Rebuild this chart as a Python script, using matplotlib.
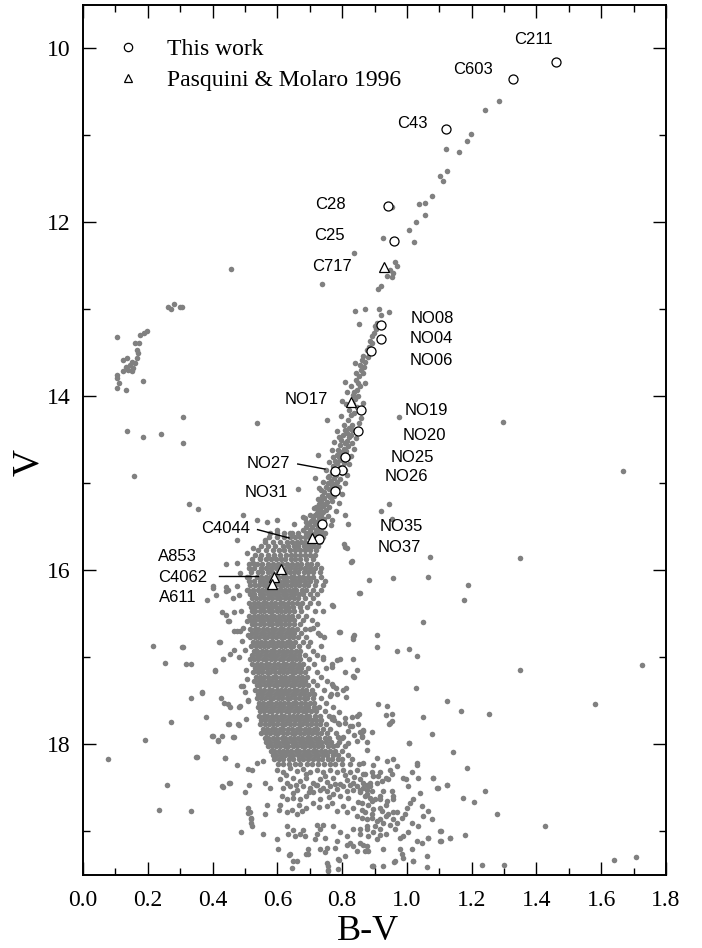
import numpy as np
import matplotlib
matplotlib.use("Agg")
import matplotlib.pyplot as plt

# ---- photometry (B-V, V) ----
# horizontal branch
hb_stars = [(0.281, 12.94), (0.263, 12.97), (0.299, 12.97), (0.305, 12.97), (0.271, 13.00),
            (0.197, 13.25), (0.188, 13.27), (0.176, 13.29), (0.106, 13.32), (0.161, 13.39),
            (0.174, 13.38), (0.166, 13.46), (0.171, 13.50), (0.135, 13.56), (0.166, 13.56),
            (0.124, 13.58), (0.150, 13.60), (0.161, 13.62), (0.145, 13.64), (0.133, 13.66),
            (0.155, 13.67), (0.140, 13.69), (0.124, 13.71), (0.150, 13.71), (0.104, 13.75),
            (0.106, 13.79), (0.184, 13.82), (0.104, 13.90), (0.133, 13.92), (0.112, 13.85)]

# red giant branch
rgb_stars = [(1.284, 10.60), (1.242, 10.71), (1.199, 10.98), (1.187, 11.06), (1.122, 11.16),
             (1.162, 11.19), (1.124, 11.41), (1.102, 11.46), (1.110, 11.52), (1.076, 11.69),
             (1.055, 11.78), (1.037, 11.79), (0.955, 11.82), (1.055, 11.91), (1.027, 12.00),
             (1.008, 12.09), (0.927, 12.18), (1.022, 12.22), (0.836, 12.35), (0.962, 12.45),
             (0.970, 12.50), (0.457, 12.53), (0.948, 12.55), (0.958, 12.58), (0.940, 12.62),
             (0.954, 12.63), (0.738, 12.71), (0.921, 12.73), (0.912, 12.76), (0.870, 12.99),
             (0.915, 13.00), (0.839, 13.02), (0.946, 13.03), (0.919, 13.06), (0.909, 13.16),
             (0.852, 13.17), (0.902, 13.19), (0.905, 13.22), (0.898, 13.27), (0.893, 13.30),
             (0.885, 13.36), (0.891, 13.39), (0.884, 13.43), (0.878, 13.47), (0.866, 13.53),
             (0.860, 13.58), (0.872, 13.60), (0.855, 13.64), (0.868, 13.66), (0.858, 13.70),
             (0.843, 13.73), (0.866, 13.73), (0.852, 13.77), (0.844, 13.81), (0.809, 13.83),
             (0.850, 13.85), (0.855, 13.88), (0.847, 13.92), (0.816, 13.95), (0.838, 13.95),
             (0.834, 13.98), (0.850, 14.00), (0.840, 14.03), (0.835, 14.09), (0.845, 14.12),
             (0.821, 14.15), (0.838, 14.19), (0.827, 14.21), (0.818, 14.27), (0.830, 14.33),
             (0.805, 14.33), (0.820, 14.36), (0.809, 14.38), (0.832, 14.38), (0.814, 14.42),
             (0.804, 14.44), (0.828, 14.44), (0.822, 14.46), (0.798, 14.50), (0.815, 14.51),
             (0.810, 14.53), (0.830, 14.54), (0.795, 14.56), (0.818, 14.57), (0.805, 14.60),
             (0.787, 14.61), (0.812, 14.63), (0.792, 14.64), (0.800, 14.66), (0.783, 14.67),
             (0.790, 14.70), (0.818, 14.71), (0.795, 14.73), (0.778, 14.74), (0.785, 14.76),
             (0.805, 14.77), (0.772, 14.80), (0.795, 14.81), (0.790, 14.83), (0.810, 14.84),
             (0.770, 14.87), (0.800, 14.88), (0.782, 14.90), (0.760, 14.91), (0.775, 14.94),
             (0.795, 14.95), (0.765, 14.97), (0.785, 14.98), (0.757, 15.00), (0.778, 15.01),
             (0.770, 15.03), (0.750, 15.04), (0.790, 15.04), (0.760, 15.06), (0.780, 15.07),
             (0.745, 15.10), (0.768, 15.11), (0.755, 15.13), (0.775, 15.14), (0.738, 15.14),
             (0.762, 15.16), (0.745, 15.17), (0.735, 15.20), (0.752, 15.21), (0.770, 15.20),
             (0.748, 15.23), (0.728, 15.24), (0.740, 15.26), (0.760, 15.27), (0.720, 15.27),
             (0.732, 15.29), (0.750, 15.30), (0.725, 15.32), (0.742, 15.33), (0.715, 15.36),
             (0.735, 15.36), (0.755, 15.37), (0.685, 15.40), (0.728, 15.40), (0.745, 15.41),
             (0.710, 15.41), (0.705, 15.43), (0.720, 15.44), (0.740, 15.44), (0.650, 15.46),
             (0.698, 15.46), (0.715, 15.47), (0.732, 15.47), (0.690, 15.50), (0.708, 15.50),
             (0.725, 15.51), (0.742, 15.50), (0.680, 15.53), (0.700, 15.53), (0.718, 15.54),
             (0.735, 15.53), (0.800, 14.05), (0.865, 14.07), (0.797, 14.22), (0.858, 14.25),
             (0.785, 14.40), (0.843, 14.48), (0.775, 14.52), (0.838, 14.60), (0.768, 14.62),
             (0.828, 14.68), (0.760, 14.75), (0.822, 14.78), (0.750, 14.85), (0.815, 14.90),
             (0.742, 14.98), (0.808, 15.00), (0.735, 15.08), (0.800, 15.12), (0.725, 15.18),
             (0.790, 15.22), (0.712, 15.28), (0.780, 15.32), (0.700, 15.36), (0.770, 15.42),
             (0.690, 15.44), (0.765, 15.48), (0.812, 14.09), (0.852, 14.30), (0.790, 14.47),
             (0.772, 14.70), (0.757, 14.92), (0.728, 15.05), (0.880, 13.55), (0.840, 13.62),
             (0.872, 13.85), (0.828, 13.88)]

# subgiant branch / turn-off, one row per V
sgb_rows = """
15.57 0.600 0.622 0.646 0.664 0.687 0.702 0.716 0.733 0.748
15.62 0.575 0.598 0.621 0.640 0.656 0.671 0.686 0.699 0.713 0.726 0.741
15.67 0.561 0.586 0.609 0.631 0.644 0.661 0.673 0.686 0.701 0.714 0.731
15.72 0.551 0.572 0.594 0.616 0.634 0.651 0.664 0.681 0.694 0.711 0.726
15.77 0.541 0.564 0.586 0.604 0.621 0.639 0.656 0.669 0.686 0.701 0.719
15.82 0.531 0.551 0.571 0.589 0.609 0.626 0.641 0.654 0.671 0.684 0.701 0.716
15.87 0.521 0.546 0.564 0.581 0.596 0.611 0.624 0.641 0.654 0.671 0.689 0.709
15.92 0.514 0.536 0.554 0.571 0.586 0.601 0.614 0.631 0.644 0.661 0.674 0.691 0.704 0.721
15.97 0.511 0.529 0.551 0.566 0.579 0.596 0.609 0.626 0.639 0.656 0.669 0.686 0.701 0.716 0.736
16.02 0.519 0.541 0.554 0.571 0.584 0.601 0.611 0.626 0.639 0.653 0.664 0.681 0.694 0.711 0.731
16.07 0.514 0.536 0.549 0.566 0.577 0.591 0.601 0.616 0.627 0.641 0.651 0.666 0.679 0.696 0.711 0.736
16.12 0.511 0.529 0.546 0.557 0.571 0.581 0.596 0.606 0.621 0.631 0.646 0.657 0.671 0.684 0.701 0.719 0.746
16.17 0.516 0.531 0.544 0.558 0.569 0.583 0.593 0.607 0.617 0.631 0.641 0.656 0.667 0.681 0.694 0.716 0.741
16.22 0.509 0.526 0.539 0.554 0.564 0.578 0.588 0.601 0.611 0.625 0.635 0.649 0.659 0.676 0.689 0.711 0.734
16.27 0.516 0.529 0.546 0.556 0.570 0.579 0.593 0.603 0.617 0.627 0.641 0.651 0.666 0.679 0.701 0.724
"""

# upper main sequence, one row per V
ms_rows = """
16.32 0.521 0.533 0.547 0.558 0.572 0.583 0.598 0.609 0.624 0.635 0.651 0.664 0.686 0.709
16.37 0.514 0.529 0.540 0.555 0.566 0.581 0.592 0.607 0.618 0.633 0.644 0.661 0.677 0.701 0.726
16.42 0.519 0.530 0.545 0.556 0.571 0.582 0.597 0.608 0.623 0.634 0.649 0.669 0.691
16.47 0.521 0.532 0.547 0.558 0.573 0.584 0.599 0.610 0.625 0.636 0.653 0.674 0.716
16.52 0.513 0.528 0.539 0.554 0.565 0.580 0.591 0.606 0.617 0.632 0.644 0.663 0.689
16.57 0.519 0.530 0.545 0.556 0.571 0.582 0.597 0.608 0.623 0.635 0.653 0.679 0.706
16.62 0.521 0.532 0.547 0.558 0.573 0.584 0.599 0.610 0.625 0.636 0.651 0.669 0.721
16.67 0.515 0.530 0.541 0.556 0.567 0.582 0.593 0.608 0.619 0.634 0.645 0.661 0.684 0.701
16.72 0.523 0.534 0.549 0.560 0.575 0.586 0.601 0.612 0.627 0.638 0.653 0.674 0.726
16.77 0.517 0.532 0.543 0.558 0.569 0.584 0.595 0.610 0.621 0.636 0.647 0.663 0.689 0.744
16.82 0.525 0.536 0.551 0.562 0.577 0.588 0.603 0.614 0.629 0.640 0.656 0.679 0.701
16.87 0.519 0.534 0.545 0.560 0.571 0.586 0.597 0.612 0.623 0.638 0.649 0.666 0.694 0.736
16.92 0.527 0.538 0.553 0.564 0.579 0.590 0.605 0.616 0.631 0.642 0.657 0.669 0.711
16.97 0.521 0.536 0.547 0.562 0.573 0.588 0.599 0.614 0.625 0.640 0.651 0.667 0.684 0.721
17.02 0.529 0.540 0.555 0.566 0.581 0.592 0.607 0.618 0.633 0.644 0.659 0.671 0.699 0.741
17.07 0.523 0.538 0.549 0.564 0.575 0.590 0.601 0.616 0.627 0.642 0.653 0.668 0.679 0.714
17.12 0.531 0.542 0.557 0.568 0.583 0.594 0.609 0.620 0.635 0.646 0.661 0.674 0.696 0.749
17.17 0.526 0.541 0.552 0.567 0.578 0.593 0.604 0.619 0.630 0.645 0.656 0.671 0.684 0.721
17.22 0.534 0.545 0.560 0.571 0.586 0.597 0.612 0.623 0.638 0.649 0.664 0.676 0.691 0.734
17.27 0.529 0.544 0.555 0.570 0.581 0.596 0.607 0.622 0.633 0.648 0.659 0.674 0.686 0.711 0.754
17.32 0.537 0.548 0.563 0.574 0.589 0.600 0.615 0.626 0.641 0.652 0.667 0.679 0.696 0.724
17.37 0.532 0.547 0.558 0.573 0.584 0.599 0.610 0.625 0.636 0.651 0.662 0.677 0.689 0.706 0.744
17.42 0.541 0.552 0.567 0.578 0.593 0.604 0.619 0.630 0.645 0.656 0.671 0.682 0.698 0.714 0.766
17.47 0.536 0.551 0.562 0.577 0.588 0.603 0.614 0.629 0.640 0.655 0.666 0.681 0.693 0.709 0.734
17.52 0.544 0.555 0.570 0.581 0.596 0.607 0.622 0.633 0.648 0.659 0.674 0.685 0.701 0.714 0.751
17.57 0.539 0.554 0.565 0.580 0.591 0.606 0.617 0.632 0.643 0.658 0.669 0.684 0.696 0.713 0.729 0.771
17.62 0.548 0.559 0.574 0.585 0.600 0.611 0.626 0.637 0.652 0.663 0.678 0.689 0.705 0.719 0.746
17.67 0.543 0.558 0.569 0.584 0.595 0.610 0.621 0.636 0.647 0.662 0.673 0.688 0.699 0.716 0.731 0.759
17.72 0.551 0.562 0.577 0.588 0.603 0.614 0.629 0.640 0.655 0.666 0.681 0.692 0.707 0.719 0.736 0.774
17.77 0.547 0.562 0.573 0.588 0.599 0.614 0.625 0.640 0.651 0.666 0.677 0.692 0.703 0.719 0.732 0.751 0.789
17.82 0.556 0.567 0.582 0.593 0.608 0.619 0.634 0.645 0.660 0.671 0.686 0.697 0.712 0.724 0.741 0.764
17.87 0.551 0.566 0.577 0.592 0.603 0.618 0.629 0.644 0.655 0.670 0.681 0.696 0.707 0.723 0.736 0.753 0.781
17.92 0.561 0.572 0.587 0.598 0.613 0.624 0.639 0.650 0.665 0.676 0.691 0.702 0.717 0.729 0.746 0.759 0.801
17.97 0.566 0.577 0.592 0.603 0.618 0.629 0.644 0.655 0.670 0.681 0.696 0.707 0.722 0.734 0.751 0.767 0.789
18.02 0.571 0.582 0.597 0.608 0.623 0.634 0.649 0.660 0.675 0.686 0.701 0.712 0.727 0.739 0.756 0.771 0.809
18.07 0.579 0.590 0.605 0.616 0.631 0.642 0.657 0.668 0.683 0.694 0.709 0.720 0.735 0.747 0.764 0.779 0.801
18.12 0.586 0.597 0.612 0.623 0.638 0.649 0.664 0.675 0.690 0.701 0.716 0.727 0.742 0.754 0.771 0.786 0.819
18.17 0.591 0.606 0.619 0.636 0.649 0.666 0.679 0.696 0.709 0.726 0.739 0.756 0.769 0.786 0.801 0.829
18.22 0.601 0.619 0.635 0.655 0.671 0.691 0.707 0.727 0.743 0.763 0.779 0.801 0.824 0.851
"""

# lower main sequence
lower_ms = [(0.598, 18.29), (0.618, 18.32), (0.639, 18.27), (0.660, 18.30), (0.680, 18.28),
            (0.701, 18.32), (0.721, 18.29), (0.742, 18.32), (0.763, 18.29), (0.783, 18.32),
            (0.804, 18.29), (0.824, 18.32), (0.845, 18.29), (0.865, 18.34), (0.608, 18.40),
            (0.629, 18.44), (0.649, 18.38), (0.670, 18.42), (0.690, 18.39), (0.711, 18.44),
            (0.732, 18.40), (0.752, 18.43), (0.773, 18.39), (0.793, 18.45), (0.814, 18.41),
            (0.835, 18.44), (0.855, 18.40), (0.876, 18.46), (0.896, 18.36), (0.917, 18.32),
            (0.937, 18.38), (0.618, 18.50), (0.639, 18.48), (0.660, 18.52), (0.680, 18.48),
            (0.701, 18.50), (0.721, 18.47), (0.742, 18.50), (0.763, 18.48), (0.783, 18.51),
            (0.804, 18.48), (0.824, 18.46), (0.845, 18.48), (0.865, 18.50), (0.886, 18.48),
            (0.711, 18.67), (0.732, 18.63), (0.752, 18.71), (0.768, 18.67), (0.783, 18.76),
            (0.804, 18.71), (0.814, 18.78), (0.835, 18.73), (0.845, 18.82), (0.860, 18.75),
            (0.876, 18.86), (0.891, 18.80), (0.907, 18.88), (0.922, 18.76), (0.937, 18.82),
            (0.958, 18.86), (0.968, 18.78), (0.891, 18.65), (0.917, 18.63), (0.937, 18.69),
            (0.958, 18.59), (0.876, 18.57), (0.855, 18.55), (0.835, 18.52), (0.814, 18.53),
            (0.793, 18.59), (0.773, 18.57), (0.752, 18.53), (0.732, 18.52), (0.711, 18.55),
            (0.690, 18.59), (0.670, 18.63), (0.649, 18.61), (0.629, 18.63), (0.917, 18.97),
            (0.896, 19.01), (0.876, 18.97), (0.855, 19.03), (0.835, 18.97), (0.814, 19.05),
            (0.793, 19.01), (0.773, 18.94), (0.814, 19.15), (0.835, 19.17), (0.855, 19.13),
            (0.876, 19.17), (0.907, 19.09), (0.937, 19.03), (0.963, 18.97), (0.927, 19.40),
            (0.896, 19.40), (0.788, 19.32), (0.809, 19.28), (0.824, 19.13), (0.845, 19.22),
            (0.629, 18.78), (0.644, 18.75), (0.660, 18.80), (0.675, 18.76), (0.690, 18.73),
            (0.629, 18.94), (0.634, 19.03), (0.649, 18.98), (0.654, 19.05), (0.680, 18.98),
            (0.670, 19.03), (0.685, 19.05), (0.639, 19.26), (0.660, 19.34), (0.690, 19.26),
            (0.696, 19.20), (0.716, 19.09), (0.721, 19.03), (0.732, 18.97), (0.721, 18.93),
            (0.742, 18.93), (0.747, 19.07), (0.752, 19.19), (0.747, 19.24), (0.778, 19.19),
            (0.783, 19.11), (0.788, 19.43), (0.752, 19.36), (0.757, 19.45), (0.608, 18.69),
            (0.606, 18.75), (0.613, 18.59), (0.567, 18.70), (0.562, 18.80), (0.510, 18.73),
            (0.516, 18.78), (0.519, 18.85), (0.521, 18.94), (0.562, 18.44), (0.577, 18.50),
            (0.514, 18.47), (0.510, 18.28), (0.521, 18.29), (0.536, 18.21), (0.555, 18.19),
            (0.865, 18.21), (0.896, 18.23), (0.907, 18.16), (0.938, 18.19), (0.958, 18.17),
            (0.968, 18.25), (0.871, 18.34), (0.891, 18.32), (0.912, 18.36), (0.922, 18.42),
            (0.948, 18.29), (0.953, 18.34), (0.943, 18.40), (0.865, 18.44), (0.886, 18.44),
            (0.907, 18.44), (0.855, 18.52), (0.876, 18.52), (0.891, 18.53), (0.871, 18.59),
            (0.886, 18.61), (0.902, 18.63), (0.860, 18.67), (0.881, 18.70), (0.917, 18.59),
            (0.927, 18.53), (0.953, 18.53), (0.958, 18.63), (0.938, 18.65), (0.917, 18.73),
            (0.896, 18.74), (0.871, 18.78), (0.860, 18.84), (0.891, 18.84), (0.917, 18.86),
            (0.943, 18.80), (0.958, 18.78), (0.902, 18.94), (0.876, 18.94), (0.855, 18.97),
            (0.927, 18.90), (0.948, 18.92), (0.968, 18.90), (0.984, 18.84), (0.994, 18.80),
            (0.999, 18.73), (1.010, 18.67), (1.020, 18.63), (0.989, 18.38), (0.997, 18.40),
            (1.004, 18.48), (1.015, 18.32), (1.035, 18.38), (1.030, 18.23), (1.040, 18.56),
            (1.046, 18.71), (1.066, 18.76), (1.076, 18.86), (1.051, 18.82), (1.035, 18.94),
            (1.015, 18.90), (0.979, 19.07), (0.989, 19.05), (1.004, 19.01), (1.030, 19.11),
            (1.046, 19.13), (1.066, 19.07), (1.102, 18.99), (1.102, 19.11), (1.133, 19.07),
            (0.917, 19.04), (0.881, 19.05), (0.865, 19.15), (0.871, 19.22), (0.881, 19.22),
            (0.927, 19.20), (0.979, 19.20), (0.984, 19.26), (1.015, 19.20), (0.963, 19.34),
            (1.020, 19.34), (0.896, 19.40), (1.092, 18.50), (1.123, 18.47), (1.082, 18.38),
            (0.864, 17.83), (0.860, 17.90), (0.876, 18.06), (0.948, 17.75), (1.007, 17.98),
            (0.628, 18.35), (0.688, 18.34), (0.748, 18.36), (0.808, 18.35), (0.658, 18.46),
            (0.718, 18.47), (0.778, 18.45), (0.838, 18.37), (0.648, 18.56), (0.698, 18.55),
            (0.758, 18.60), (0.818, 18.61), (0.668, 18.70), (0.728, 18.72), (0.848, 18.66)]

# scattered stars off the sequences
field_stars = [(0.536, 14.31), (0.309, 14.24), (0.135, 14.40), (0.186, 14.46), (0.241, 14.43),
               (0.309, 14.54), (0.159, 14.91), (0.976, 14.24), (1.296, 14.29), (1.666, 14.86),
               (0.754, 14.27), (0.726, 14.67), (0.717, 14.94), (0.663, 15.06), (0.326, 15.23),
               (0.356, 15.29), (0.495, 15.36), (0.946, 15.24), (0.920, 15.32), (0.955, 15.41),
               (0.819, 15.46), (0.806, 15.70), (0.809, 15.73), (0.827, 15.90), (1.071, 15.85),
               (1.348, 15.86), (0.883, 16.11), (0.958, 16.09), (1.066, 16.08), (1.190, 16.17),
               (1.175, 16.34), (0.852, 16.26), (0.771, 16.41), (1.050, 16.59), (0.791, 16.71),
               (0.837, 16.74), (0.834, 16.79), (0.908, 16.74), (0.908, 16.88), (0.970, 16.93),
               (1.007, 16.90), (1.030, 16.98), (1.349, 17.14), (1.725, 17.09), (0.784, 17.03),
               (0.769, 17.11), (0.834, 17.02), (0.809, 17.17), (0.845, 17.14), (0.838, 17.22),
               (1.027, 17.35), (0.768, 17.31), (0.781, 17.35), (0.804, 17.37), (0.812, 17.35),
               (0.783, 17.42), (0.812, 17.45), (0.763, 17.44), (0.912, 17.54), (0.938, 17.56),
               (0.935, 17.66), (0.953, 17.65), (0.946, 17.76), (0.954, 17.73), (1.125, 17.50),
               (1.168, 17.62), (1.254, 17.65), (1.049, 17.68), (1.581, 17.54), (1.077, 17.88),
               (1.008, 17.98), (0.852, 17.65), (0.831, 17.68), (0.809, 17.69), (0.790, 17.63),
               (0.771, 17.68), (0.848, 17.76), (0.830, 17.79), (0.809, 17.75), (0.788, 17.75),
               (0.768, 17.71), (0.893, 17.86), (0.865, 17.84), (0.862, 17.91), (0.837, 17.89),
               (0.819, 17.85), (0.804, 17.91), (0.788, 17.91), (0.876, 17.97), (0.845, 17.96),
               (0.819, 17.98), (0.783, 18.01), (1.143, 18.09), (1.185, 18.27), (1.241, 18.53),
               (1.030, 18.21), (1.082, 18.38), (1.095, 18.50), (1.125, 18.47), (1.174, 18.62),
               (1.207, 18.66), (1.277, 18.80), (1.426, 18.94), (1.179, 19.04), (1.133, 19.07),
               (1.104, 19.11), (1.105, 18.99), (1.066, 19.07), (1.231, 19.38), (1.300, 19.38),
               (1.061, 19.28), (1.061, 19.41), (1.020, 19.34), (0.961, 19.35), (0.893, 19.40),
               (0.989, 19.30), (1.639, 19.33), (1.706, 19.29), (0.217, 16.87), (0.308, 16.88),
               (0.253, 17.06), (0.318, 17.07), (0.333, 17.08), (0.421, 16.82), (0.450, 16.58),
               (0.474, 16.69), (0.485, 16.70), (0.407, 17.15), (0.431, 17.02), (0.454, 16.96),
               (0.467, 16.91), (0.366, 17.40), (0.332, 17.46), (0.426, 17.46), (0.435, 17.52),
               (0.454, 17.57), (0.380, 17.68), (0.272, 17.74), (0.192, 17.95), (0.078, 18.17),
               (0.351, 18.14), (0.399, 17.90), (0.418, 17.95), (0.439, 18.16), (0.450, 17.76),
               (0.481, 17.78), (0.466, 17.91), (0.476, 18.24), (0.508, 17.49), (0.483, 17.57),
               (0.487, 17.33), (0.500, 17.40), (0.260, 18.47), (0.430, 18.48), (0.452, 18.44),
               (0.236, 18.75), (0.334, 18.77), (0.500, 18.55), (0.509, 18.79), (0.518, 18.86),
               (0.518, 18.90), (0.487, 19.01), (0.557, 19.03), (0.598, 19.09), (0.603, 19.20),
               (0.637, 19.27), (0.647, 19.34), (0.695, 19.26), (0.732, 19.20), (0.757, 19.40),
               (0.757, 19.44), (0.791, 19.33), (0.644, 19.42), (0.382, 16.34), (0.430, 16.48),
               (0.443, 16.51), (0.466, 16.48), (0.488, 16.47), (0.449, 16.58), (0.402, 16.20),
               (0.443, 16.19), (0.474, 16.18), (0.482, 16.28), (0.307, 16.88), (0.423, 16.82),
               (0.433, 17.02), (0.482, 16.99), (0.490, 16.81), (0.467, 16.70), (0.495, 16.66),
               (0.409, 17.14), (0.505, 16.58), (0.510, 16.74), (0.500, 16.91), (0.515, 17.02),
               (0.503, 17.14), (0.505, 17.25), (0.495, 17.33), (0.368, 17.41), (0.449, 17.54),
               (0.485, 17.56), (0.510, 17.50), (0.449, 17.76), (0.480, 17.77), (0.503, 17.71),
               (0.400, 17.90), (0.428, 17.90), (0.349, 18.14), (0.438, 18.16), (0.416, 17.96),
               (0.464, 17.91), (0.431, 18.49), (0.454, 18.44), (0.770, 16.40), (0.742, 16.47),
               (0.793, 16.71), (0.834, 16.76), (0.855, 16.26), (0.711, 16.66), (0.732, 16.74),
               (0.742, 17.00), (0.768, 17.08), (0.793, 17.02), (0.834, 17.21), (0.773, 17.33),
               (0.845, 17.67), (0.824, 17.79), (0.855, 17.86), (0.443, 15.93), (0.474, 15.91),
               (0.485, 16.03), (0.505, 16.07), (0.443, 16.24), (0.505, 16.22), (0.402, 16.18),
               (0.536, 15.42), (0.567, 15.44), (0.598, 15.42), (0.598, 15.53), (0.474, 15.65),
               (0.562, 15.65), (0.577, 15.57), (0.639, 15.57), (0.680, 15.38), (0.721, 15.34),
               (0.505, 15.80), (0.526, 15.74), (0.546, 15.86), (0.526, 15.91), (0.449, 16.22),
               (0.412, 16.28), (0.464, 16.32), (0.814, 15.74), (0.830, 15.89), (0.809, 15.36)]

# spectroscopic targets
this_work_names = ["C211", "C603", "C43", "C28", "C25", "NO08", "NO04", "NO06", "NO19",
                   "NO20", "NO25", "NO26", "NO27", "NO31", "NO35", "NO37"]
this_work_bv = [1.459, 1.328, 1.120, 0.941, 0.960, 0.919, 0.919, 0.889, 0.858,
                0.848, 0.810, 0.800, 0.778, 0.778, 0.739, 0.729]
this_work_v = [10.16, 10.35, 10.93, 11.81, 12.21, 13.18, 13.34, 13.48, 14.16,
               14.40, 14.70, 14.85, 14.86, 15.09, 15.46, 15.64]

pm96_names = ["C717", "NO17", "C4044", "A853", "C4062", "A611"]
pm96_bv = [0.930, 0.827, 0.708, 0.611, 0.591, 0.583]
pm96_v = [12.51, 14.06, 15.63, 15.98, 16.08, 16.16]

# label anchors (text centre) and leader lines
label_text = ["C211", "C603", "C43", "C28", "C25", "C717", "NO08", "NO04", "NO06", "NO17",
              "NO19", "NO20", "NO25", "NO26", "NO27", "NO31", "NO35", "NO37", "C4044",
              "A853", "C4062", "A611"]
label_x = [1.391, 1.204, 1.018, 0.764, 0.761, 0.770, 1.079, 1.075, 1.075, 0.688,
           1.060, 1.055, 1.017, 0.998, 0.571, 0.567, 0.983, 0.978, 0.439,
           0.293, 0.309, 0.293]
label_y = [9.893, 10.238, 10.861, 11.788, 12.155, 12.507, 13.10, 13.338, 13.587, 14.038,
           14.161, 14.448, 14.700, 14.918, 14.765, 15.102, 15.50, 15.734, 15.522,
           15.844, 16.078, 16.315]
leaders = [((0.663, 0.747), (14.776, 14.834)),
           ((0.539, 0.636), (15.530, 15.626)),
           ((0.420, 0.539), (16.067, 16.067))]


def read_rows(block):
    bv, v = [], []
    for line in block.strip().splitlines():
        vals = [float(s) for s in line.split()]
        bv += vals[1:]
        v += [vals[0]] * (len(vals) - 1)
    return bv, v


serif = "Liberation Serif"
sans = "Liberation Sans"
grey = "#808080"
dot = 4.0

fig = plt.figure(figsize=(7.02, 9.48), dpi=100)
ax = fig.add_axes([83 / 702, 73 / 948, 583 / 702, 870 / 948])

for group in (hb_stars, rgb_stars, lower_ms, field_stars):
    gx, gy = zip(*group)
    ax.plot(gx, gy, "o", color=grey, ms=dot, mew=0, zorder=1)
for block in (sgb_rows, ms_rows):
    gx, gy = read_rows(block)
    ax.plot(gx, gy, "o", color=grey, ms=dot, mew=0, zorder=1)

ax.plot(this_work_bv, this_work_v, "o", ms=6.5, mfc="white", mec="black", mew=0.9,
        ls="none", zorder=3, label="This work")
ax.plot(pm96_bv, pm96_v, "^", ms=7.5, mfc="white", mec="black", mew=0.9,
        ls="none", zorder=3, label="Pasquini & Molaro 1996")

for name, x, y in zip(label_text, label_x, label_y):
    ax.text(x, y, name, family=sans, fontsize=12, ha="center", va="center", zorder=4)
for lx, ly in leaders:
    ax.plot(lx, ly, color="black", lw=1.0, zorder=4)

ax.set_xlim(0.0, 1.8)
ax.set_ylim(19.5, 9.5)
ax.set_xticks(np.arange(0.0, 1.81, 0.2))
ax.set_xticks(np.arange(0.0, 1.81, 0.1), minor=True)
ax.set_yticks([10, 12, 14, 16, 18])
ax.set_yticks(np.arange(10, 20, 1), minor=True)
ax.set_xticklabels(["%.1f" % t for t in np.arange(0.0, 1.81, 0.2)])

ax.tick_params(which="both", direction="in", top=True, right=True, width=1.0)
ax.tick_params(which="major", length=9.5)
ax.tick_params(which="minor", length=5)
ax.tick_params(axis="x", pad=11)
ax.tick_params(axis="y", pad=9)
for lab in ax.get_xticklabels() + ax.get_yticklabels():
    lab.set_family(serif)
    lab.set_fontsize(17)
for sp in ax.spines.values():
    sp.set_linewidth(1.4)

ax.set_xlabel("B-V", family=serif, fontsize=26, va="center")
ax.set_ylabel("V", family=serif, fontsize=27, va="center")
ax.xaxis.set_label_coords(0.489, -0.0655)
ax.yaxis.set_label_coords(-0.093, 0.474)

leg = ax.legend(loc="upper left", bbox_to_anchor=(0.04, 0.972), frameon=False,
                numpoints=1, handlelength=1.0, handletextpad=1.15, labelspacing=0.4,
                prop={"family": serif, "size": 17}, borderaxespad=0)
for h in leg.legend_handles:
    h.set_markersize(6)

fig.savefig("out.png", dpi=100)
